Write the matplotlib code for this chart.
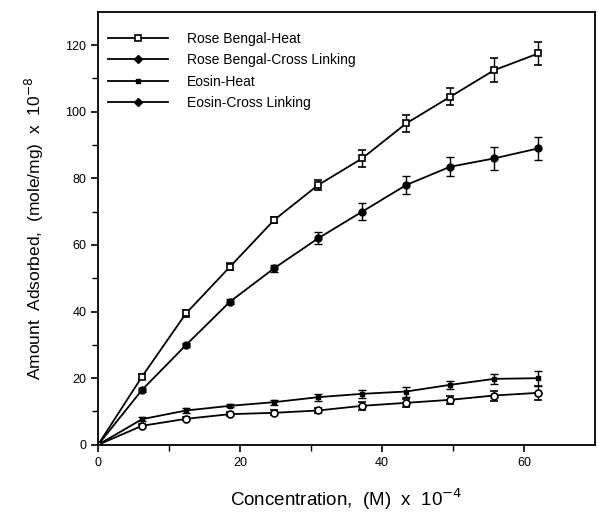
import numpy as np
import matplotlib
matplotlib.use('Agg')
from matplotlib import pyplot as plt
from matplotlib.lines import Line2D

plt.rcParams['font.family'] = ['Liberation Sans', 'DejaVu Sans']

conc = [0, 6.2, 12.4, 18.6, 24.8, 31, 37.2, 43.4, 49.6, 55.8, 62]

rb_heat = [0, 20.5, 39.5, 53.5, 67.5, 78, 86, 96.5, 104.5, 112.5, 117.5]
rb_heat_err = [0.3, 0.8, 1, 1, 1, 1.5, 2.5, 2.5, 2.5, 3.5, 3.5]

rb_cl = [0, 16.5, 30, 43, 53, 62, 70, 78, 83.5, 86, 89]
rb_cl_err = [0.3, 0.5, 0.5, 0.8, 1, 1.8, 2.5, 2.8, 2.8, 3.5, 3.5]

eo_heat = [0, 7.7, 10.3, 11.7, 12.8, 14.3, 15.3, 16, 18, 19.8, 20]
eo_heat_err = [0.3, 0.5, 0.8, 0.5, 0.8, 1, 1.2, 1.5, 1.2, 1.5, 2.2]

eo_cl = [0, 5.7, 7.8, 9.2, 9.6, 10.3, 11.7, 12.6, 13.5, 14.8, 15.6]
eo_cl_err = [0.3, 0.5, 0.5, 0.5, 0.8, 0.8, 1.2, 1.2, 1.2, 1.5, 2.2]

labels = ['Rose Bengal-Heat', 'Rose Bengal-Cross Linking', 'Eosin-Heat', 'Eosin-Cross Linking']

fig = plt.figure(figsize=(5.98, 5.16), dpi=100)
ax = fig.add_axes([0.164, 0.138, 0.831, 0.839])

common = dict(color='black', lw=1.3, capsize=3, elinewidth=1, capthick=1)
ax.errorbar(conc, rb_heat, yerr=rb_heat_err, marker='s', ms=5, mfc='white',
            mec='black', mew=1.2, **common)
ax.errorbar(conc, rb_cl, yerr=rb_cl_err, marker='o', ms=5, mfc='black', **common)
ax.errorbar(conc, eo_heat, yerr=eo_heat_err, marker='s', ms=3, mfc='black', **common)
ax.errorbar(conc, eo_cl, yerr=eo_cl_err, marker='o', ms=5, mfc='white',
            mec='black', mew=1.2, **common)

ax.set_xlim(0, 70)
ax.set_ylim(0, 130)
ax.set_xticks([0, 20, 40, 60])
ax.set_xticks([10, 30, 50], minor=True)
ax.set_yticks([0, 20, 40, 60, 80, 100, 120])
ax.set_yticks([10, 30, 50, 70, 90, 110], minor=True)
ax.tick_params(direction='out', length=5, width=1.2, labelsize=9)
ax.tick_params(which='minor', direction='out', length=4, width=1)
for s in ax.spines.values():
    s.set_linewidth(1.3)

ax.set_xlabel('Concentration,  (M)  x  10$^{-4}$', fontsize=13.5, labelpad=13)
ax.set_ylabel('Amount  Adsorbed,  (mole/mg)  x  10$^{-8}$', fontsize=12.5, labelpad=14)

handles = [
    Line2D([], [], color='black', lw=1.3, marker='s', ms=5, mfc='white', mec='black', mew=1.2),
    Line2D([], [], color='black', lw=1.3, marker='D', ms=4, mfc='black'),
    Line2D([], [], color='black', lw=1.3, marker='s', ms=2.5, mfc='black'),
    Line2D([], [], color='black', lw=1.3, marker='D', ms=4, mfc='black'),
]
ax.legend(handles, labels, loc='upper left', bbox_to_anchor=(-0.016, 0.995),
          frameon=False, fontsize=10, handlelength=4.3, handletextpad=1.4,
          labelspacing=0.52, borderaxespad=0.9, borderpad=0.4)

plt.savefig('out.png', dpi=100)
